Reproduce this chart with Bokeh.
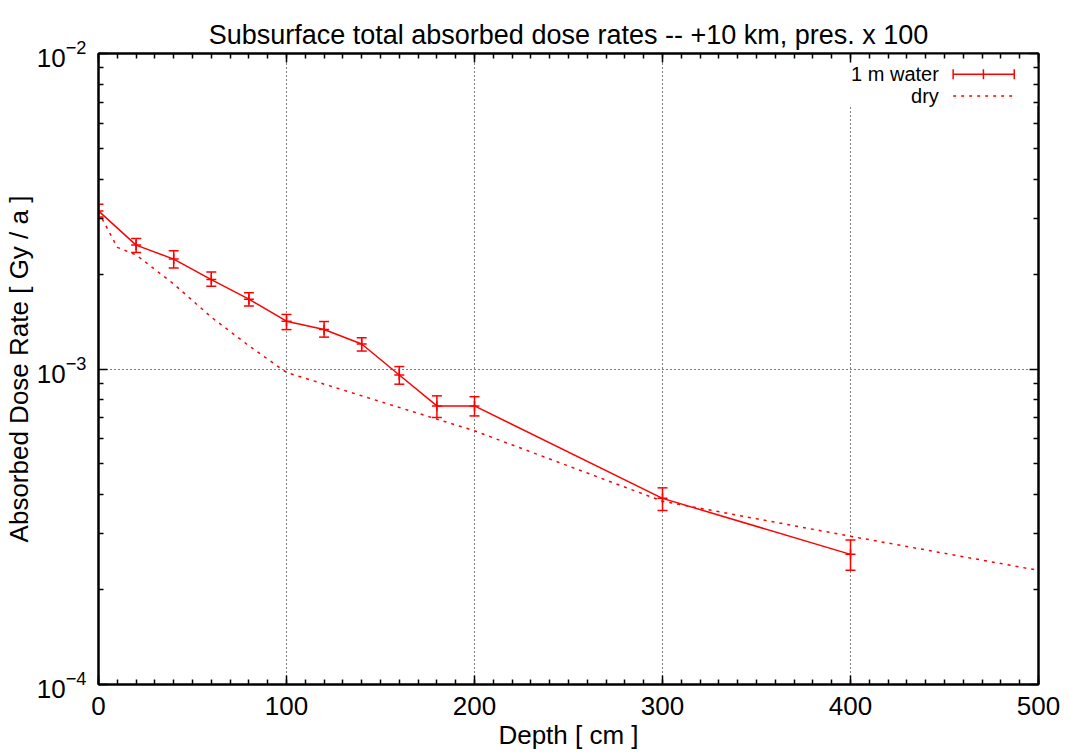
from bokeh.plotting import figure
from bokeh.models import (ColumnDataSource, Whisker, TeeHead, LinearAxis, LogAxis,
                          SingleIntervalTicker, FixedTicker, CustomJSTickFormatter,
                          BoxAnnotation, Range1d)
from bokeh.core.properties import value
from bokeh.embed import file_html
from bokeh.resources import INLINE

# ---- data ----
water_depth = [0, 20, 40, 60, 80, 100, 120, 140, 160, 180, 200, 300, 400]
water_rate = [3.17e-3, 2.47e-3, 2.23e-3, 1.92e-3, 1.665e-3, 1.418e-3, 1.334e-3,
              1.20e-3, 9.57e-4, 7.64e-4, 7.64e-4, 3.89e-4, 2.585e-4]
water_upper = [3.33e-3, 2.59e-3, 2.37e-3, 2.03e-3, 1.743e-3, 1.489e-3, 1.414e-3,
               1.256e-3, 1.018e-3, 8.22e-4, 8.17e-4, 4.20e-4, 2.87e-4]
water_lower = [3.03e-3, 2.34e-3, 2.09e-3, 1.83e-3, 1.585e-3, 1.333e-3, 1.262e-3,
               1.14e-3, 8.95e-4, 7.02e-4, 7.10e-4, 3.56e-4, 2.30e-4]

dry_depth = [0, 10, 20, 40, 60, 80, 100, 200, 300, 400, 500]
dry_rate = [3.15e-3, 2.43e-3, 2.30e-3, 1.86e-3, 1.46e-3, 1.185e-3, 9.75e-4,
            6.37e-4, 3.81e-4, 2.95e-4, 2.30e-4]

y_major_ticks = [1e-4, 1e-3, 1e-2]
y_minor_ticks = [m * d for d in (1e-4, 1e-3) for m in range(2, 10)]

series_labels = ["1 m water", "dry"]
title_text = "Subsurface total absorbed dose rates -- +10 km, pres. x 100"
x_label = "Depth [ cm ]"
y_label = "Absorbed Dose Rate [ Gy / a ]"

FONT = "Liberation Sans"
RED = "#ff0000"

p = figure(width=1070, height=753, output_backend="svg", toolbar_location=None,
           y_axis_type="log", x_range=Range1d(0, 500), y_range=Range1d(1e-4, 1e-2),
           min_border_left=97, min_border_right=32, min_border_top=53, min_border_bottom=69)
p.background_fill_color = "white"
p.border_fill_color = "white"
p.outline_line_color = "black"
p.outline_line_width = 2

# title
p.title.text = title_text
p.title.align = "center"
p.title.vertical_align = "top"
p.title.text_font = FONT
p.title.text_font_size = "27px"
p.title.text_font_style = "normal"
p.title.text_color = "black"
p.title.standoff = 4

xt = SingleIntervalTicker(interval=100, num_minor_ticks=10)
yt = FixedTicker(ticks=y_major_ticks, minor_ticks=y_minor_ticks)

def style_axis(ax):
    ax.axis_line_width = 2
    ax.axis_line_color = "black"
    ax.major_tick_in = 9
    ax.major_tick_out = 0
    ax.minor_tick_in = 5
    ax.minor_tick_out = 0
    ax.major_tick_line_width = 1.5
    ax.minor_tick_line_width = 1.5
    ax.major_tick_line_color = "black"
    ax.minor_tick_line_color = "black"
    ax.major_label_text_font = FONT
    ax.major_label_text_font_size = "26px"
    ax.major_label_text_color = "black"
    ax.axis_label_text_font = FONT
    ax.axis_label_text_font_size = "26px"
    ax.axis_label_text_font_style = "normal"
    ax.axis_label_text_color = "black"

xa = p.xaxis[0]
xa.ticker = xt
style_axis(xa)
xa.axis_label = x_label
xa.major_label_standoff = 12
xa.axis_label_standoff = 2

ya = p.yaxis[0]
ya.ticker = yt
style_axis(ya)
ya.axis_label = y_label
ya.major_label_standoff = 12
ya.axis_label_standoff = 0

blank = CustomJSTickFormatter(code="return ''")
top_ax = LinearAxis(ticker=xt, formatter=blank)
style_axis(top_ax)
top_ax.major_label_standoff = 0
top_ax.major_label_text_font_size = "1px"
right_ax = LogAxis(ticker=yt, formatter=blank)
style_axis(right_ax)
right_ax.major_label_standoff = 0
right_ax.major_label_text_font_size = "1px"
p.add_layout(top_ax, "above")
p.add_layout(right_ax, "right")

# grid: dotted black
p.xgrid.ticker = xt
p.xgrid.grid_line_color = "black"
p.xgrid.grid_line_dash = "1 3"
p.xgrid.grid_line_width = 1
p.ygrid.ticker = yt
p.ygrid.grid_line_color = "black"
p.ygrid.grid_line_dash = "1 3"
p.ygrid.grid_line_width = 1

# legend key area blanks the grid (gnuplot style)
p.add_layout(BoxAnnotation(left=390, right=500, bottom=6.82e-3, top=1e-2,
                           fill_color="white", fill_alpha=1, line_alpha=0,
                           level="underlay"))

# data
wsrc = ColumnDataSource(dict(depth=water_depth, rate=water_rate,
                             upper=water_upper, lower=water_lower))
dsrc = ColumnDataSource(dict(depth=dry_depth, rate=dry_rate))

p.line("depth", "rate", source=dsrc, line_color=RED, line_width=1.5, line_dash="3 5")
p.line("depth", "rate", source=wsrc, line_color=RED, line_width=1.5)
p.add_layout(Whisker(source=wsrc, base="depth", upper="upper", lower="lower",
                     dimension="height", line_color=RED, line_width=1.5,
                     upper_head=TeeHead(size=10, line_color=RED, line_width=1.5),
                     lower_head=TeeHead(size=10, line_color=RED, line_width=1.5)))
p.scatter("depth", "rate", source=wsrc, marker="cross", size=10,
          line_color=RED, line_width=1.5)

# legend (gnuplot style: label left, sample right)
leg_text_x = 447
leg_y = [8.59e-3, 7.33e-3]
leg_x0, leg_xm, leg_x1 = 454.6, 470.7, 487.1
p.text(x=[leg_text_x, leg_text_x], y=leg_y, text=series_labels,
       text_align="right", text_baseline="middle", text_font=value(FONT),
       text_font_size="20px", text_color="black")
p.segment(x0=[leg_x0], y0=[leg_y[0]], x1=[leg_x1], y1=[leg_y[0]],
          line_color=RED, line_width=1.5)
p.scatter(x=[leg_x0, leg_xm, leg_x1], y=[leg_y[0]] * 3, marker="dash", angle=1.5708,
          size=10, line_color=RED, line_width=1.5)
p.segment(x0=[leg_x0], y0=[leg_y[1]], x1=[leg_x1], y1=[leg_y[1]],
          line_color=RED, line_width=1.5, line_dash="3 5")

open("out.html", "w").write(file_html(p, INLINE))
